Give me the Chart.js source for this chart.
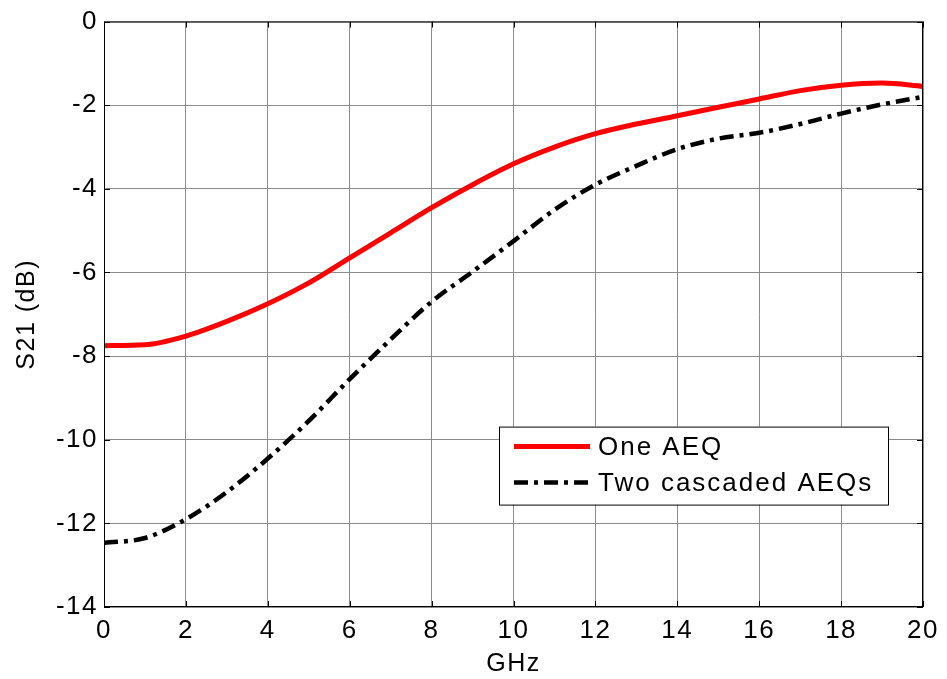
<!DOCTYPE html>
<html>
<head>
<meta charset="utf-8">
<script src="https://cdn.jsdelivr.net/npm/chart.js@4"></script>
<style>
  html, body { margin: 0; padding: 0; background: #fff; }
  #wrap { width: 947px; height: 679px; }
</style>
</head>
<body>
<div id="wrap"><canvas id="s21"></canvas></div>
<script>
const FONT = 'Arial, "Liberation Sans", sans-serif';

// frequency points in GHz
const freqs = [0, 1, 2, 3, 4, 5, 6, 7, 8, 9, 10, 11, 12, 13, 14, 15, 16, 17, 18, 19, 20];

// S21 in dB
const oneAeq = [-7.75, -7.73, -7.52, -7.17, -6.75, -6.25, -5.65, -5.05, -4.45, -3.9, -3.4,
  -3.0, -2.68, -2.45, -2.25, -2.05, -1.85, -1.65, -1.52, -1.47, -1.55];
const twoAeqs = [-12.47, -12.35, -11.9, -11.25, -10.45, -9.55, -8.55, -7.6, -6.7, -5.98, -5.25,
  -4.5, -3.9, -3.45, -3.05, -2.8, -2.66, -2.45, -2.2, -1.98, -1.8];

const seriesNames = ['One AEQ', 'Two cascaded AEQs'];

const toPoints = (values) => freqs.map((f, i) => ({x: f, y: values[i]}));

// the matlab text is a bit wider than plain arial
const wideText = {
  id: 'wideText',
  beforeUpdate(chart) { chart.ctx.letterSpacing = '1.5px'; },
  beforeDraw(chart) { chart.ctx.letterSpacing = '1.5px'; }
};

// frame, inward ticks and the boxed legend, MATLAB style
const matlabFrame = {
  id: 'matlabFrame',
  afterDraw(chart) {
    const {ctx, chartArea: area, scales} = chart;
    const tick = 6;
    ctx.save();
    ctx.strokeStyle = '#000';
    ctx.lineWidth = 1;
    ctx.strokeRect(area.left + 0.5, area.top + 0.5, area.width - 1, area.height - 1);

    ctx.beginPath();
    scales.x.ticks.forEach((t) => {
      const px = Math.round(scales.x.getPixelForValue(t.value)) + 0.5;
      ctx.moveTo(px, area.bottom);
      ctx.lineTo(px, area.bottom - tick);
      ctx.moveTo(px, area.top);
      ctx.lineTo(px, area.top + tick);
    });
    scales.y.ticks.forEach((t) => {
      const py = Math.round(scales.y.getPixelForValue(t.value)) + 0.5;
      ctx.moveTo(area.left, py);
      ctx.lineTo(area.left + tick, py);
      ctx.moveTo(area.right, py);
      ctx.lineTo(area.right - tick, py);
    });
    ctx.stroke();

    // legend box
    const boxLeft = area.left + 395;
    const boxTop = area.top + 405;
    const boxW = 389;
    const boxH = 78;
    ctx.fillStyle = '#fff';
    ctx.fillRect(boxLeft, boxTop, boxW, boxH);
    ctx.strokeRect(boxLeft + 0.5, boxTop + 0.5, boxW, boxH);

    const rows = [boxTop + 20, boxTop + 56];
    chart.data.datasets.forEach((ds, i) => {
      ctx.beginPath();
      ctx.strokeStyle = ds.borderColor;
      ctx.lineWidth = ds.borderWidth;
      ctx.setLineDash(ds.borderDash || []);
      ctx.moveTo(boxLeft + 15, rows[i]);
      ctx.lineTo(boxLeft + 91, rows[i]);
      ctx.stroke();
      ctx.setLineDash([]);
      ctx.fillStyle = '#000';
      ctx.font = '26px ' + FONT;
      ctx.letterSpacing = '2px';
      ctx.textBaseline = 'middle';
      ctx.fillText(ds.label, boxLeft + 99, rows[i] + 1);
    });
    ctx.restore();
  }
};

new Chart(document.getElementById('s21'), {
  type: 'line',
  data: {
    datasets: [
      {
        label: seriesNames[0],
        data: toPoints(oneAeq),
        borderColor: '#ff0000',
        borderWidth: 5,
        pointRadius: 0,
        tension: 0.4,
        cubicInterpolationMode: 'monotone'
      },
      {
        label: seriesNames[1],
        data: toPoints(twoAeqs),
        borderColor: '#000000',
        borderWidth: 4.5,
        borderDash: [14, 6, 4, 6],
        pointRadius: 0,
        tension: 0.4,
        cubicInterpolationMode: 'monotone'
      }
    ]
  },
  options: {
    responsive: true,
    maintainAspectRatio: false,
    animation: false,
    layout: {padding: {left: 0, right: 24, top: 17, bottom: 0}},
    plugins: {
      legend: {display: false},
      tooltip: {enabled: false}
    },
    scales: {
      x: {
        type: 'linear',
        min: 0,
        max: 20,
        ticks: {stepSize: 2, color: '#000', font: {family: FONT, size: 26}, padding: 8, maxRotation: 0},
        grid: {color: '#8c8c8c', lineWidth: 1, drawTicks: false},
        border: {display: false},
        title: {display: true, text: 'GHz', color: '#000', font: {family: FONT, size: 25}, padding: {top: 0, bottom: 0}},
        afterFit: (scale) => { scale.height = 72; }
      },
      y: {
        min: -14,
        max: 0,
        ticks: {stepSize: 2, color: '#000', font: {family: FONT, size: 26}, padding: 6},
        grid: {color: '#8c8c8c', lineWidth: 1, drawTicks: false},
        border: {display: false},
        title: {display: true, text: 'S21 (dB)', color: '#000', font: {family: FONT, size: 25}, padding: {top: 12, bottom: 0}},
        afterFit: (scale) => { scale.width = 104; }
      }
    }
  },
  plugins: [wideText, matlabFrame]
});
</script>
</body>
</html>
